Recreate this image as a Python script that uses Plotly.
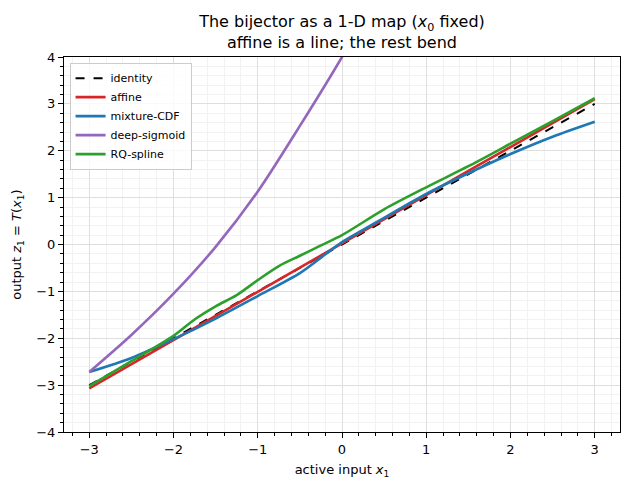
import plotly.graph_objects as go

# ---- data ----
x_identity = [-3.0, 3.0]
y_identity = [-3.0, 3.0]

x_affine = [-3.0, -1.5, 0.0, 1.5, 3.0]
y_affine = [-3.07, -1.52, 0.02, 1.57, 3.10]

x_mixture = [-3.0, -2.5, -2.0, -1.5, -1.0, -0.5, -0.25, 0.0, 0.25, 0.5, 1.0, 1.5, 2.0, 2.5, 3.0]
y_mixture = [-2.72, -2.42, -2.02, -1.58, -1.10, -0.61, -0.28, 0.05, 0.31, 0.57, 1.08, 1.52, 1.93, 2.30, 2.62]

x_sigmoid = [-3.0, -2.5, -2.0, -1.5, -1.0, -0.5, 0.0, 0.25]
y_sigmoid = [-2.72, -1.93, -1.05, -0.05, 1.13, 2.53, 4.0, 4.8]

x_spline = [-3.0, -2.5, -2.0, -1.75, -1.5, -1.25, -1.0, -0.75, -0.5, -0.25, 0.0, 0.5, 1.0, 1.5, 2.0, 2.5, 3.0]
y_spline = [-3.02, -2.49, -1.95, -1.60, -1.32, -1.08, -0.76, -0.46, -0.24, -0.02, 0.20, 0.75, 1.22, 1.67, 2.15, 2.63, 3.12]

x_ticks = [-3, -2, -1, 0, 1, 2, 3]
y_ticks = [-4, -3, -2, -1, 0, 1, 2, 3, 4]

series = [
    ("identity", x_identity, y_identity, "black", "dash", "linear"),
    ("affine", x_affine, y_affine, "#d62728", "solid", "linear"),
    ("mixture-CDF", x_mixture, y_mixture, "#1f77b4", "solid", "spline"),
    ("deep-sigmoid", x_sigmoid, y_sigmoid, "#9467bd", "solid", "spline"),
    ("RQ-spline", x_spline, y_spline, "#2ca02c", "solid", "spline"),
]

fig = go.Figure()
for name, xs, ys, col, dash, shape in series:
    fig.add_trace(go.Scatter(
        x=xs, y=ys, mode="lines", name=name,
        line=dict(color=col, width=2.6 if name != "identity" else 2.0, dash=dash, shape=shape, smoothing=0.8),
    ))

font = "DejaVu Sans, Arial, sans-serif"
axis_common = dict(
    showline=True, linecolor="black", linewidth=1, mirror=True,
    ticks="outside", ticklen=5, tickwidth=1, tickcolor="black",
    showgrid=True, gridcolor="#dedede", gridwidth=1,
    zeroline=False,
    tickfont=dict(family=font, size=13, color="black"),
)

fig.update_layout(
    width=630, height=489,
    margin=dict(l=64, r=10, t=57, b=57),
    paper_bgcolor="white", plot_bgcolor="white",
    font=dict(family=font, color="black"),
    title=dict(
        text="The bijector as a 1-D map (<i>x</i><sub>0</sub> fixed)<br>affine is a line; the rest bend",
        x=0.5, xref="paper", xanchor="center",
        y=0.944, yref="container", yanchor="top",
        font=dict(family=font, size=16, color="black"),
    ),
    xaxis=dict(
        range=[-3.3, 3.3], tickvals=x_ticks,
        title=dict(text="active input <i>x</i><sub>1</sub>", font=dict(family=font, size=13), standoff=9),
        minor=dict(dtick=0.2, tick0=0, ticks="outside", ticklen=3, tickcolor="black",
                   showgrid=True, gridcolor="#f2f2f2", gridwidth=1),
        **axis_common,
    ),
    yaxis=dict(
        range=[-4, 4], tickvals=y_ticks,
        title=dict(text="output <i>z</i><sub>1</sub> = <i>T</i>(<i>x</i><sub>1</sub>)", font=dict(family=font, size=13), standoff=11),
        minor=dict(dtick=0.2, tick0=0, ticks="outside", ticklen=3, tickcolor="black",
                   showgrid=True, gridcolor="#f2f2f2", gridwidth=1),
        **axis_common,
    ),
    legend=dict(
        x=0.01, y=0.985, xanchor="left", yanchor="top",
        bgcolor="rgba(255,255,255,0.8)", bordercolor="#cccccc", borderwidth=1,
        font=dict(family=font, size=11, color="black"),
        tracegroupgap=0, itemwidth=30,
    ),
)

fig.write_html("out.html")
